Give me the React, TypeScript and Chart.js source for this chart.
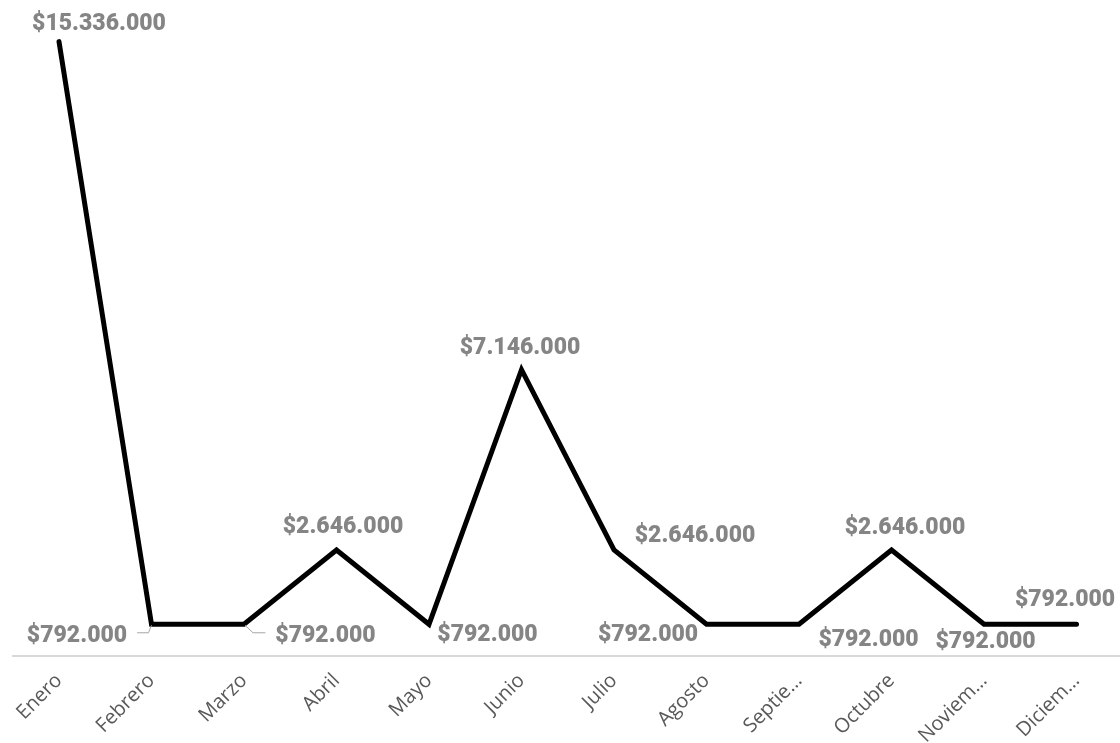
import React, { useEffect, useRef } from "react";
import { Chart, registerables } from "chart.js";

Chart.register(...registerables);

const months = [
  "Enero", "Febrero", "Marzo", "Abril", "Mayo", "Junio",
  "Julio", "Agosto", "Septiembre", "Octubre", "Noviembre", "Diciembre",
];
const values = [
  15336000, 792000, 792000, 2646000, 792000, 7146000,
  2646000, 792000, 792000, 2646000, 792000, 792000,
];

// label placement relative to each point (styling, not data)
const labelOffsets: [number, number, boolean][] = [
  [40, -20, false], [-74.5, 8.5, true], [81.5, 8.5, true], [6.5, -26, false],
  [58.5, 8, false], [-1.5, -24, false], [81, -17, false], [-58.5, 8, false],
  [69.5, 13, false], [13.5, -25, false], [1.5, 14.5, false], [-11.5, -27, false],
];

function fmt(v: number): string {
  return "$" + String(v).replace(/\B(?=(\d{3})+(?!\d))/g, ".");
}

function shortLabel(s: string): string {
  return s.length > 8 ? s.slice(0, 6) + "…" : s;
}

const labelPlugin = {
  id: "valueLabels",
  afterDatasetsDraw(chart: any) {
    const ctx = chart.ctx;
    const meta = chart.getDatasetMeta(0);
    ctx.save();
    ctx.font = "900 23px Roboto";
    ctx.fillStyle = "#858585";
    ctx.textAlign = "center";
    ctx.textBaseline = "middle";
    meta.data.forEach((pt: any, i: number) => {
      const [dx, dy, leader] = labelOffsets[i];
      const text = fmt(values[i]);
      const cx = pt.x + dx;
      const cy = pt.y + dy;
      ctx.fillText(text, cx, cy + 3);
      if (leader) {
        const w = ctx.measureText(text).width;
        ctx.strokeStyle = "#a6a6a6";
        ctx.lineWidth = 1;
        ctx.beginPath();
        if (dx < 0) {
          const sx = cx + w / 2 + 10;
          ctx.moveTo(sx, cy);
          ctx.lineTo(pt.x - 3, cy);
          ctx.lineTo(pt.x, pt.y + 1);
        } else {
          const sx = cx - w / 2 - 10;
          ctx.moveTo(sx, cy);
          ctx.lineTo(pt.x + 9, cy);
          ctx.lineTo(pt.x + 1, pt.y + 1);
        }
        ctx.stroke();
      }
    });
    ctx.restore();
  },
};

export default function App() {
  const ref = useRef<HTMLCanvasElement | null>(null);
  useEffect(() => {
    if (!ref.current) return;
    const chart = new Chart(ref.current, {
      type: "line",
      data: {
        datasets: [
          {
            data: values.map((v, i) => ({ x: i, y: v })),
            borderColor: "#000000",
            borderWidth: 5,
            pointRadius: 0,
            tension: 0,
            borderCapStyle: "round",
            borderJoinStyle: "miter",
            fill: false,
          },
        ],
      },
      options: {
        animation: false,
        responsive: false,
        layout: { padding: { top: 15, left: 12.75, right: 0, bottom: 0 } },
        plugins: {
          legend: { display: false },
          tooltip: { enabled: false },
        },
        scales: {
          x: {
            type: "linear",
            min: -0.5,
            max: 11.47,
            grid: { display: false, drawTicks: false },
            border: { display: true, color: "#d9d9d9", width: 2 },
            afterBuildTicks: (scale: any) => {
              scale.ticks = months.map((_, i) => ({ value: i }));
            },
            afterFit: (scale: any) => {
              scale.height = 87;
            },
            ticks: {
              autoSkip: false,
              minRotation: 45,
              maxRotation: 45,
              padding: 13,
              color: "#595959",
              font: { family: "'Open Sans'", size: 20 },
              callback: (v: any) => shortLabel(months[Math.round(Number(v))] ?? ""),
            },
          },
          y: {
            display: false,
            min: 0,
            max: 16000000,
          },
        },
      },
      plugins: [labelPlugin],
    });
    return () => chart.destroy();
  }, []);
  return (
    <div style={{ position: "absolute", left: 0, top: 0, width: 1120, height: 743, background: "#fff" }}>
      <canvas ref={ref} width={1120} height={743} />
    </div>
  );
}
